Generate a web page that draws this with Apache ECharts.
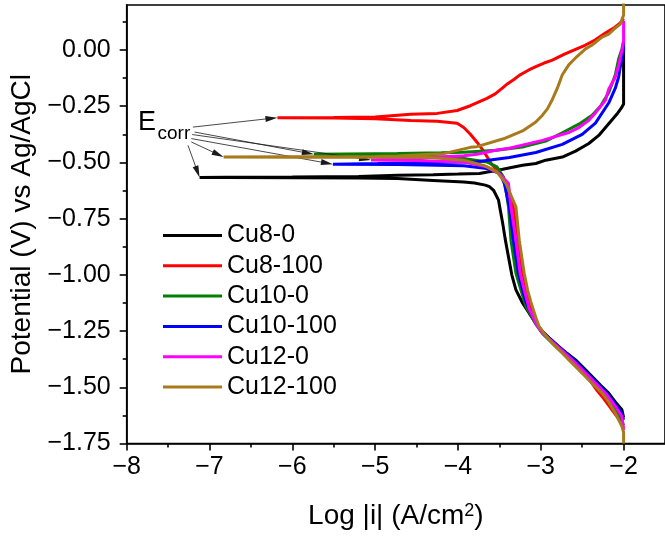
<!DOCTYPE html>
<html>
<head>
<meta charset="utf-8">
<script src="https://cdn.jsdelivr.net/npm/echarts@6/dist/echarts.min.js"></script>
<style>
  html, body { margin: 0; padding: 0; background: #fff; }
  #chart { width: 665px; height: 539px; }
</style>
</head>
<body>
<div id="chart"></div>
<script>
// Tafel polarisation curves: [log|i| (A/cm2), potential (V vs Ag/AgCl)],
// listed in scan order from the cathodic end to the anodic end.
const seriesNames = ['Cu8-0', 'Cu8-100', 'Cu10-0', 'Cu10-100', 'Cu12-0', 'Cu12-100'];
const seriesColors = ['#000000', '#ff0000', '#008000', '#0000ff', '#ff00ff', '#a87a1c'];

const cu8_0 = [
  [-2.00, -1.635], [-2.02, -1.600], [-2.10, -1.565], [-2.18, -1.526], [-2.28, -1.490],
  [-2.38, -1.452], [-2.48, -1.415], [-2.58, -1.378], [-2.68, -1.350], [-2.78, -1.319],
  [-2.90, -1.280], [-3.00, -1.245], [-3.06, -1.215], [-3.14, -1.171], [-3.22, -1.125],
  [-3.30, -1.067], [-3.35, -1.000], [-3.39, -0.920], [-3.43, -0.840], [-3.46, -0.771],
  [-3.49, -0.710], [-3.51, -0.668], [-3.57, -0.624], [-3.62, -0.608], [-3.67, -0.601],
  [-3.80, -0.592], [-3.93, -0.587], [-4.30, -0.580], [-4.73, -0.572], [-5.20, -0.569],
  [-6.00, -0.568], [-6.80, -0.567], [-7.12, -0.567],
  [-6.80, -0.566], [-6.00, -0.565], [-5.20, -0.563], [-4.73, -0.557], [-4.30, -0.555],
  [-4.00, -0.552], [-3.74, -0.549], [-3.46, -0.530], [-3.22, -0.513], [-3.06, -0.505],
  [-2.94, -0.490], [-2.74, -0.476], [-2.58, -0.450], [-2.42, -0.416], [-2.30, -0.380],
  [-2.18, -0.328], [-2.08, -0.285], [-2.02, -0.254], [-2.00, -0.240], [-2.00, 0.012]
];

const cu8_100 = [
  [-2.00, -1.680], [-2.06, -1.640], [-2.14, -1.600], [-2.24, -1.550], [-2.32, -1.515],
  [-2.44, -1.452], [-2.64, -1.378], [-2.84, -1.310], [-3.00, -1.250], [-3.06, -1.210],
  [-3.12, -1.140], [-3.17, -1.067], [-3.22, -0.990], [-3.27, -0.850], [-3.32, -0.720],
  [-3.38, -0.630], [-3.44, -0.580], [-3.50, -0.545], [-3.59, -0.510], [-3.69, -0.450],
  [-3.77, -0.410], [-3.85, -0.375], [-3.93, -0.345], [-4.01, -0.326], [-4.25, -0.317],
  [-4.57, -0.314], [-5.00, -0.306], [-5.50, -0.302], [-6.18, -0.301],
  [-5.50, -0.300], [-5.00, -0.298], [-4.57, -0.286], [-4.25, -0.282], [-4.01, -0.269],
  [-3.85, -0.248], [-3.65, -0.215], [-3.55, -0.195], [-3.45, -0.165], [-3.40, -0.150],
  [-3.32, -0.130], [-3.26, -0.113], [-3.15, -0.090], [-3.06, -0.074], [-2.96, -0.058],
  [-2.86, -0.045], [-2.72, -0.020], [-2.58, 0.003], [-2.46, 0.022], [-2.34, 0.045],
  [-2.22, 0.075], [-2.12, 0.097], [-2.04, 0.120], [-2.00, 0.140]
];

const cu10_0 = [
  [-2.00, -1.670], [-2.04, -1.630], [-2.12, -1.590], [-2.22, -1.540], [-2.42, -1.465],
  [-2.62, -1.390], [-2.82, -1.318], [-2.98, -1.260], [-3.05, -1.225], [-3.12, -1.180],
  [-3.18, -1.140], [-3.24, -1.067], [-3.30, -0.993], [-3.36, -0.846], [-3.39, -0.698],
  [-3.42, -0.624], [-3.45, -0.565], [-3.53, -0.520], [-3.65, -0.498], [-3.93, -0.483],
  [-4.40, -0.472], [-5.00, -0.467], [-5.74, -0.464],
  [-5.00, -0.461], [-4.73, -0.460], [-4.20, -0.457], [-3.93, -0.455], [-3.53, -0.446],
  [-3.20, -0.430], [-2.94, -0.405], [-2.74, -0.368], [-2.54, -0.330], [-2.38, -0.290],
  [-2.28, -0.250], [-2.18, -0.190], [-2.10, -0.110], [-2.06, -0.040], [-2.02, 0.005],
  [-2.00, 0.040]
];

const cu10_100 = [
  [-2.00, -1.645], [-2.03, -1.610], [-2.12, -1.565], [-2.20, -1.526], [-2.40, -1.452],
  [-2.60, -1.378], [-2.80, -1.315], [-2.96, -1.260], [-3.05, -1.220], [-3.12, -1.170],
  [-3.18, -1.120], [-3.22, -1.067], [-3.27, -0.993], [-3.33, -0.846], [-3.38, -0.698],
  [-3.44, -0.594], [-3.49, -0.550], [-3.65, -0.527], [-3.93, -0.515], [-4.73, -0.509],
  [-5.51, -0.508],
  [-4.97, -0.505], [-4.25, -0.500], [-3.77, -0.497], [-3.38, -0.478], [-3.06, -0.456],
  [-2.74, -0.420], [-2.50, -0.375], [-2.34, -0.325], [-2.18, -0.236], [-2.10, -0.170],
  [-2.06, -0.120], [-2.02, -0.030], [-2.00, 0.000], [-2.00, 0.040]
];

const cu12_0 = [
  [-2.00, -1.690], [-2.02, -1.630], [-2.10, -1.585], [-2.20, -1.535], [-2.41, -1.456],
  [-2.61, -1.382], [-2.81, -1.315], [-2.98, -1.258], [-3.05, -1.222], [-3.14, -1.150],
  [-3.20, -1.067], [-3.25, -0.993], [-3.30, -0.846], [-3.36, -0.698], [-3.39, -0.594],
  [-3.50, -0.550], [-3.65, -0.520], [-3.93, -0.498], [-4.50, -0.492], [-5.05, -0.489],
  [-4.50, -0.480], [-3.93, -0.470], [-3.77, -0.464], [-3.53, -0.445], [-3.38, -0.437],
  [-2.98, -0.402], [-2.66, -0.367], [-2.54, -0.345], [-2.42, -0.313], [-2.34, -0.280],
  [-2.22, -0.224], [-2.18, -0.175], [-2.10, -0.121], [-2.06, -0.070], [-2.02, -0.002],
  [-2.00, 0.040], [-2.00, 0.130]
];

const cu12_100 = [
  [-2.00, -1.750], [-2.00, -1.700], [-2.02, -1.674], [-2.10, -1.615], [-2.18, -1.565],
  [-2.26, -1.526], [-2.36, -1.490], [-2.46, -1.452], [-2.56, -1.415], [-2.66, -1.378],
  [-2.76, -1.340], [-2.86, -1.304], [-2.94, -1.270], [-3.02, -1.230], [-3.06, -1.190],
  [-3.12, -1.120], [-3.16, -1.067], [-3.20, -0.993], [-3.26, -0.846], [-3.30, -0.698],
  [-3.36, -0.646], [-3.42, -0.594], [-3.53, -0.542], [-3.69, -0.513], [-3.93, -0.490],
  [-4.33, -0.478], [-5.00, -0.477], [-6.00, -0.477], [-6.83, -0.476],
  [-6.00, -0.475], [-5.00, -0.474], [-4.73, -0.471], [-4.40, -0.465], [-4.17, -0.461],
  [-3.85, -0.433], [-3.77, -0.430], [-3.45, -0.395], [-3.22, -0.360], [-3.06, -0.320],
  [-2.98, -0.290], [-2.92, -0.262], [-2.86, -0.220], [-2.80, -0.170], [-2.77, -0.140],
  [-2.74, -0.110], [-2.66, -0.065], [-2.56, -0.028], [-2.46, 0.005], [-2.38, 0.022],
  [-2.26, 0.057], [-2.18, 0.070], [-2.10, 0.098], [-2.04, 0.115], [-2.00, 0.155],
  [-2.00, 0.250]
];

const seriesData = [cu8_0, cu8_100, cu10_0, cu10_100, cu12_0, cu12_100];

// Axis ticks
const xTicks = [-8, -7, -6, -5, -4, -3, -2];
const xMinorTicks = [-7.5, -6.5, -5.5, -4.5, -3.5, -2.5];
const yTicks = [-1.75, -1.5, -1.25, -1.0, -0.75, -0.5, -0.25, 0];
const yMinorTicks = [-1.625, -1.375, -1.125, -0.875, -0.625, -0.375, -0.125, 0.125];

// Tails of the E_corr pointer arrows, one per series (same order)
const arrowTails = [
  [-7.26, -0.424], [-7.20, -0.343], [-7.18, -0.365],
  [-7.22, -0.394], [-7.21, -0.376], [-7.22, -0.409]
];

const FONT = "'Liberation Sans', Arial, Helvetica, sans-serif";
const minus = s => String(s).replace('-', '\u2212');

const chart = echarts.init(document.getElementById('chart'), null, { renderer: 'canvas' });

// Corrosion potential of each curve = point of lowest current
const ecorrPoints = seriesData.map(d => d.reduce((a, b) => (b[0] < a[0] ? b : a)));

const axisLineStyle = { color: '#000', width: 1.6 };

function buildSeries(arrowData) {
  return seriesNames.map((name, i) => {
    const s = {
      name: name,
      type: 'line',
      data: seriesData[i],
      showSymbol: false,
      symbol: 'none',
      clip: true,
      silent: true,
      animation: false,
      lineStyle: { color: seriesColors[i], width: 3 },
      itemStyle: { color: seriesColors[i] },
      emphasis: { disabled: true },
      z: 2 + i
    };
    if (i === 0 && arrowData) {
      s.markLine = {
        silent: true,
        animation: false,
        symbol: ['none', 'triangle'],
        symbolSize: [6, 12],
        lineStyle: { color: '#1a1a1a', width: 0.8, type: 'solid' },
        label: { show: false },
        emphasis: { disabled: true },
        data: arrowData
      };
    }
    return s;
  });
}

const option = {
  backgroundColor: '#fff',
  animation: false,
  textStyle: { fontFamily: FONT },
  grid: {
    left: 126.7, top: 5, right: -5, bottom: 95.5,
    show: true, borderColor: '#000', borderWidth: 1.6, backgroundColor: 'transparent'
  },
  legend: {
    data: seriesNames,
    orient: 'vertical',
    left: 163, top: 223, padding: 0,
    icon: 'rect',
    itemWidth: 59, itemHeight: 3, itemGap: 5.3,
    selectedMode: false,
    textStyle: { fontSize: 25, color: '#000', fontFamily: FONT }
  },
  xAxis: [
    {
      type: 'value', min: -8, max: -1.5, interval: 1, position: 'bottom',
      name: 'Log |i| (A/cm{sup|2})',
      nameLocation: 'middle', nameGap: 59,
      nameTextStyle: {
        fontSize: 28, color: '#000', fontFamily: FONT,
        rich: { sup: { fontSize: 18, color: '#000', fontFamily: FONT, verticalAlign: 'top' } }
      },
      axisLine: { show: true, onZero: false, lineStyle: axisLineStyle },
      axisTick: { show: true, inside: false, length: 7, lineStyle: axisLineStyle, customValues: xTicks },
      axisLabel: {
        show: true, fontSize: 25, color: '#000', fontFamily: FONT, margin: 11,
        customValues: xTicks, formatter: v => minus(v)
      },
      splitLine: { show: false }
    },
    {
      type: 'value', min: -8, max: -1.5, interval: 0.5, position: 'bottom',
      axisLine: { show: false, onZero: false },
      axisTick: { show: true, inside: false, length: 4, lineStyle: axisLineStyle, customValues: xMinorTicks },
      axisLabel: { show: false },
      splitLine: { show: false }
    }
  ],
  yAxis: [
    {
      type: 'value', min: -1.75, max: 0.2, interval: 0.25, position: 'left',
      name: 'Potential (V) vs Ag/AgCl',
      nameLocation: 'middle', nameGap: 84, nameRotate: 90,
      nameTextStyle: { fontSize: 28, color: '#000', fontFamily: FONT },
      axisLine: { show: true, onZero: false, lineStyle: axisLineStyle },
      axisTick: { show: true, inside: false, length: 7, lineStyle: axisLineStyle, customValues: yTicks },
      axisLabel: {
        show: true, fontSize: 25, color: '#000', fontFamily: FONT, margin: 16,
        customValues: yTicks, formatter: v => minus(Number(v).toFixed(2))
      },
      splitLine: { show: false }
    },
    {
      type: 'value', min: -1.75, max: 0.2, interval: 0.125, position: 'left',
      axisLine: { show: false, onZero: false },
      axisTick: { show: true, inside: false, length: 4, lineStyle: axisLineStyle, customValues: yMinorTicks },
      axisLabel: { show: false },
      splitLine: { show: false }
    }
  ],
  series: buildSeries(null),
  graphic: [
    {
      type: 'text', x: 138, y: 122.5, silent: true, z: 50,
      style: { text: 'E', font: '27px ' + FONT, fill: '#000', verticalAlign: 'middle', align: 'left' }
    },
    {
      type: 'text', x: 157.5, y: 134, silent: true, z: 50,
      style: { text: 'corr', font: '19px ' + FONT, fill: '#000', verticalAlign: 'middle', align: 'left' }
    }
  ]
};

chart.setOption(option);

// Arrows from the E_corr label to each curve's corrosion point; the head is
// pulled back so that its tip, not its centre, lands on the point.
const arrowData = arrowTails.map((tail, i) => {
  const head = ecorrPoints[i];
  const p0 = chart.convertToPixel({ gridIndex: 0 }, tail);
  const p1 = chart.convertToPixel({ gridIndex: 0 }, head);
  const dx = p1[0] - p0[0], dy = p1[1] - p0[1];
  const len = Math.hypot(dx, dy) || 1;
  const back = 6;
  const q = [p1[0] - dx / len * back, p1[1] - dy / len * back];
  const headData = chart.convertFromPixel({ gridIndex: 0 }, q);
  return [{ coord: tail }, { coord: headData }];
});

chart.setOption({ series: buildSeries(arrowData) });
</script>
</body>
</html>
